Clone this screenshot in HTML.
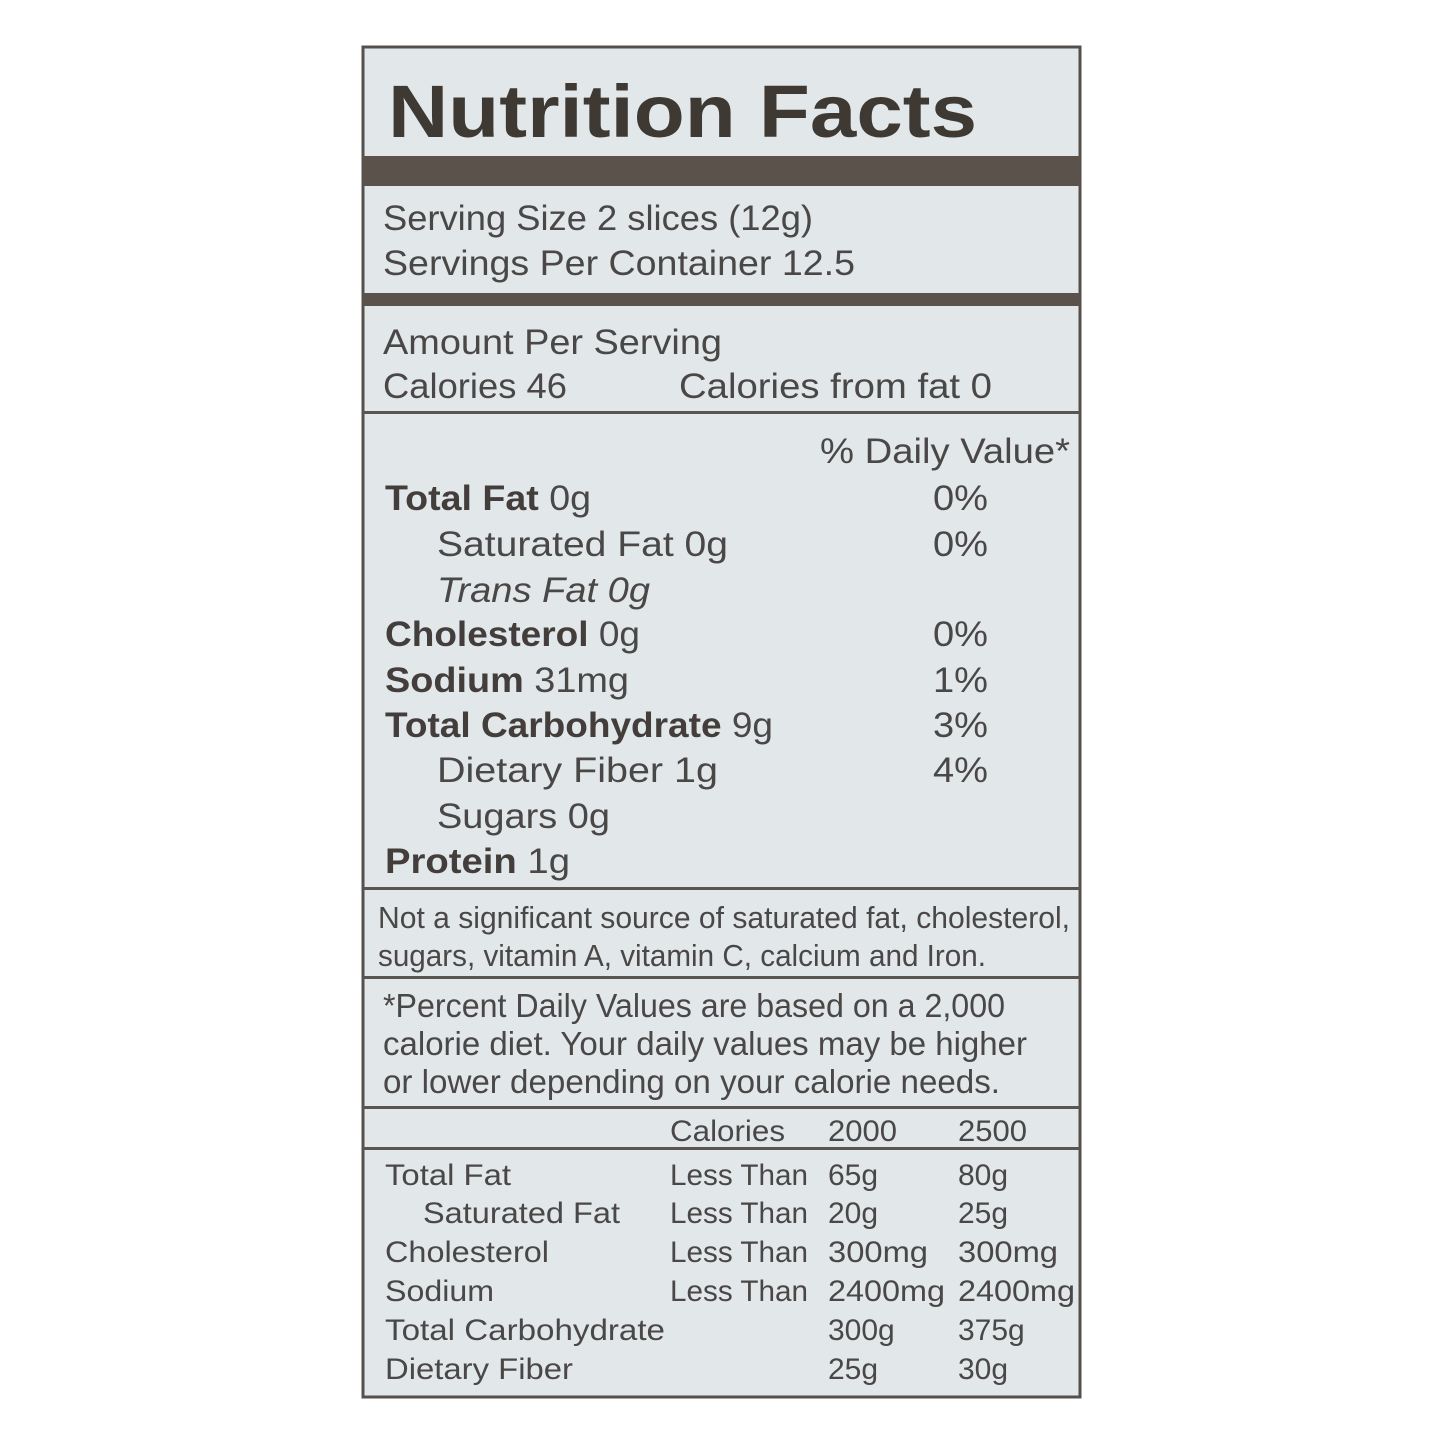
<!DOCTYPE html>
<html><head><meta charset="utf-8"><style>
html,body{margin:0;padding:0;background:#fff;}
svg{display:block}
text{font-family:"Liberation Sans",sans-serif;fill:#4a4747;}
.b{font-weight:bold;fill:#433e3b}
</style></head><body>
<svg width="1445" height="1445" viewBox="0 0 1445 1445" xmlns="http://www.w3.org/2000/svg">
<rect x="0" y="0" width="1445" height="1445" fill="#fff"/>
<rect x="363" y="47" width="717" height="1350" fill="#e2e7e9" stroke="#55504c" stroke-width="3"/>
<rect x="363" y="156" width="717" height="30" fill="#5b534b"/>
<rect x="363" y="293" width="717" height="13" fill="#5b534b"/>
<rect x="363" y="411" width="717" height="3" fill="#5a5551"/>
<rect x="363" y="887" width="717" height="3" fill="#5a5551"/>
<rect x="363" y="976" width="717" height="3" fill="#5a5551"/>
<rect x="363" y="1106" width="717" height="3" fill="#5a5551"/>
<rect x="363" y="1147" width="717" height="3" fill="#5a5551"/>

<text class="b" x="388" y="137" font-size="74" textLength="589" lengthAdjust="spacingAndGlyphs" style="fill:#3f3934">Nutrition Facts</text>

<g font-size="35">
<text x="383" y="230" textLength="430" lengthAdjust="spacingAndGlyphs">Serving Size 2 slices (12g)</text>
<text x="383" y="275" textLength="472" lengthAdjust="spacingAndGlyphs">Servings Per Container 12.5</text>
<text x="383" y="354" textLength="339" lengthAdjust="spacingAndGlyphs">Amount Per Serving</text>
<text x="383" y="398" textLength="184" lengthAdjust="spacingAndGlyphs">Calories 46</text>
<text x="679" y="398" textLength="313" lengthAdjust="spacingAndGlyphs">Calories from fat 0</text>
<text x="820" y="463" textLength="250" lengthAdjust="spacingAndGlyphs">% Daily Value*</text>

<text x="385" y="510" textLength="206" lengthAdjust="spacingAndGlyphs"><tspan class="b">Total Fat</tspan>  0g</text>
<text x="437" y="556" textLength="291" lengthAdjust="spacingAndGlyphs">Saturated Fat  0g</text>
<text x="437" y="602" font-style="italic" textLength="213" lengthAdjust="spacingAndGlyphs">Trans Fat  0g</text>
<text x="385" y="646" textLength="255" lengthAdjust="spacingAndGlyphs"><tspan class="b">Cholesterol</tspan>  0g</text>
<text x="385" y="692" textLength="244" lengthAdjust="spacingAndGlyphs"><tspan class="b">Sodium</tspan>  31mg</text>
<text x="385" y="737" textLength="388" lengthAdjust="spacingAndGlyphs"><tspan class="b">Total Carbohydrate</tspan>  9g</text>
<text x="437" y="782" textLength="281" lengthAdjust="spacingAndGlyphs">Dietary Fiber  1g</text>
<text x="437" y="828" textLength="173" lengthAdjust="spacingAndGlyphs">Sugars  0g</text>
<text x="385" y="873" textLength="185" lengthAdjust="spacingAndGlyphs"><tspan class="b">Protein</tspan>  1g</text>
<text x="933" y="510" textLength="55" lengthAdjust="spacingAndGlyphs">0%</text>
<text x="933" y="556" textLength="55" lengthAdjust="spacingAndGlyphs">0%</text>
<text x="933" y="646" textLength="55" lengthAdjust="spacingAndGlyphs">0%</text>
<text x="933" y="692" textLength="55" lengthAdjust="spacingAndGlyphs">1%</text>
<text x="933" y="737" textLength="55" lengthAdjust="spacingAndGlyphs">3%</text>
<text x="933" y="782" textLength="55" lengthAdjust="spacingAndGlyphs">4%</text>
</g>

<g font-size="30">
<text x="378" y="928" font-size="31" textLength="692" lengthAdjust="spacingAndGlyphs">Not a significant source of saturated fat, cholesterol,</text>
<text x="378" y="966" font-size="31" textLength="608" lengthAdjust="spacingAndGlyphs">sugars, vitamin A, vitamin C, calcium and Iron.</text>
<text x="383" y="1017" font-size="33" textLength="622" lengthAdjust="spacingAndGlyphs">*Percent Daily Values are based on a 2,000</text>
<text x="383" y="1055" font-size="33" textLength="644" lengthAdjust="spacingAndGlyphs">calorie diet. Your daily values may be higher</text>
<text x="383" y="1093" font-size="33" textLength="617" lengthAdjust="spacingAndGlyphs">or lower depending on your calorie needs.</text>

<text x="670" y="1141" textLength="115" lengthAdjust="spacingAndGlyphs">Calories</text>
<text x="828" y="1141" textLength="69" lengthAdjust="spacingAndGlyphs">2000</text>
<text x="958" y="1141" textLength="69" lengthAdjust="spacingAndGlyphs">2500</text>

<text x="385" y="1185" textLength="126" lengthAdjust="spacingAndGlyphs">Total Fat</text>
<text x="423" y="1223" textLength="197" lengthAdjust="spacingAndGlyphs">Saturated Fat</text>
<text x="385" y="1262" textLength="164" lengthAdjust="spacingAndGlyphs">Cholesterol</text>
<text x="385" y="1301" textLength="109" lengthAdjust="spacingAndGlyphs">Sodium</text>
<text x="385" y="1340" textLength="280" lengthAdjust="spacingAndGlyphs">Total Carbohydrate</text>
<text x="385" y="1379" textLength="188" lengthAdjust="spacingAndGlyphs">Dietary Fiber</text>

<text x="670" y="1185" textLength="138" lengthAdjust="spacingAndGlyphs">Less Than</text>
<text x="670" y="1223" textLength="138" lengthAdjust="spacingAndGlyphs">Less Than</text>
<text x="670" y="1262" textLength="138" lengthAdjust="spacingAndGlyphs">Less Than</text>
<text x="670" y="1301" textLength="138" lengthAdjust="spacingAndGlyphs">Less Than</text>

<text x="828" y="1185">65g</text>
<text x="828" y="1223">20g</text>
<text x="828" y="1262" textLength="100" lengthAdjust="spacingAndGlyphs">300mg</text>
<text x="828" y="1301" textLength="117" lengthAdjust="spacingAndGlyphs">2400mg</text>
<text x="828" y="1340">300g</text>
<text x="828" y="1379">25g</text>

<text x="958" y="1185">80g</text>
<text x="958" y="1223">25g</text>
<text x="958" y="1262" textLength="100" lengthAdjust="spacingAndGlyphs">300mg</text>
<text x="958" y="1301" textLength="117" lengthAdjust="spacingAndGlyphs">2400mg</text>
<text x="958" y="1340">375g</text>
<text x="958" y="1379">30g</text>
</g>
</svg>
</body></html>
